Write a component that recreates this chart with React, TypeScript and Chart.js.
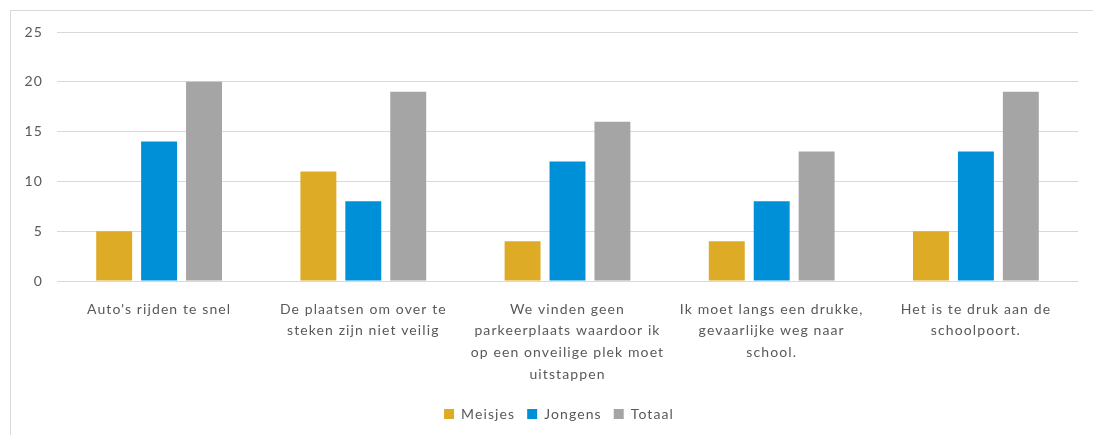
import React, { useEffect, useRef } from "react";
import { Chart, registerables } from "chart.js";

Chart.register(...registerables);

const categories: string[][] = [
  ["Auto's rijden te snel"],
  ["De plaatsen om over te", "steken zijn niet veilig"],
  ["We vinden geen", "parkeerplaats waardoor ik", "op een onveilige plek moet", "uitstappen"],
  ["Ik moet langs een drukke,", "gevaarlijke weg naar", "school."],
  ["Het is te druk aan de", "schoolpoort."],
];
const meisjes = [5, 11, 4, 4, 5];
const jongens = [14, 8, 12, 8, 13];
const totaal = [20, 19, 16, 13, 19];

const FONT = "Lato, 'Open Sans', sans-serif";

const spacingPlugin = {
  id: "letterSpacing",
  beforeUpdate(chart: any) {
    chart.ctx.letterSpacing = "1.1px";
  },
  beforeLayout(chart: any) {
    chart.ctx.letterSpacing = "1.1px";
  },
  afterLayout(chart: any) {
    if (chart.legend) {
      chart.legend.left += 20;
      chart.legend.right += 20;
    }
  },
  beforeDraw(chart: any) {
    chart.ctx.letterSpacing = "1.1px";
  },
};

export default function App() {
  const ref = useRef<HTMLCanvasElement | null>(null);
  useEffect(() => {
    if (!ref.current) return;
    const chart = new Chart(ref.current, {
      type: "bar",
      data: {
        labels: categories,
        datasets: [
          { label: "Meisjes", data: meisjes, backgroundColor: "#DEAB27" },
          { label: "Jongens", data: jongens, backgroundColor: "#0090D7" },
          { label: "Totaal", data: totaal, backgroundColor: "#A5A5A5" },
        ],
      },
      plugins: [spacingPlugin],
      options: {
        animation: false,
        responsive: false,
        maintainAspectRatio: false,
        datasets: { bar: { categoryPercentage: 0.66, barPercentage: 0.8 } },
        layout: { padding: { left: 0, right: 15, top: 32, bottom: 4 } },
        plugins: {
          tooltip: { enabled: false },
          legend: {
            position: "bottom",
            labels: {
              boxWidth: 10,
              boxHeight: 10,
              padding: 12,
              color: "#595959",
              font: { family: FONT, size: 14 },
            },
          },
        },
        scales: {
          x: {
            grid: { display: false },
            border: { display: false },
            ticks: {
              color: "#595959",
              font: { family: FONT, size: 14, lineHeight: 1.57 },
              padding: 9,
              maxRotation: 0,
              autoSkip: false,
            },
            afterFit: (s: any) => {
              s.height = 114;
            },
          },
          y: {
            min: 0,
            max: 25,
            ticks: {
              stepSize: 5,
              color: "#595959",
              font: { family: FONT, size: 14 },
              padding: 14,
            },
            grid: { color: "#D9D9D9", lineWidth: 1, drawTicks: false },
            border: { display: false },
            afterFit: (s: any) => {
              s.width = 57;
            },
          },
        },
      },
    });
    return () => chart.destroy();
  }, []);
  return (
    <div style={{ position: "fixed", left: 0, top: 0, width: 1093, height: 435, background: "#fff", overflow: "hidden" }}>
      <div
        style={{
          position: "absolute",
          left: 10,
          top: 10,
          width: 1100,
          height: 460,
          border: "1px solid #D9D9D9",
        }}
      />
      <canvas ref={ref} width={1093} height={435} style={{ position: "absolute", left: 0, top: 0 }} />
    </div>
  );
}
